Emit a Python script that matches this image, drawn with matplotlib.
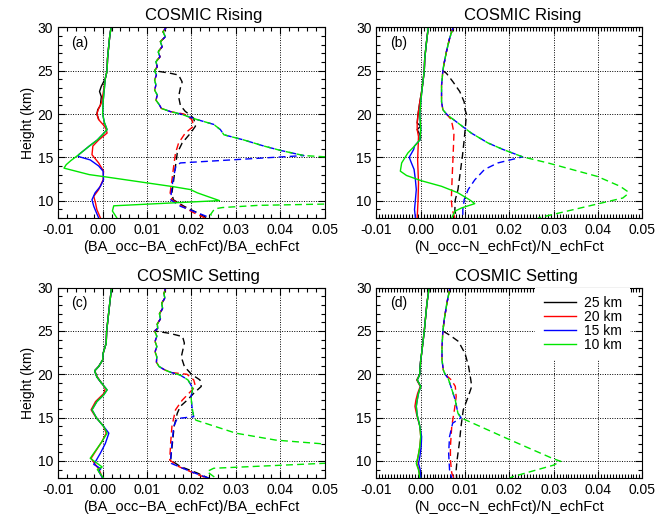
import matplotlib
matplotlib.use('Agg')
from matplotlib import pyplot as plt
from matplotlib.ticker import MultipleLocator, FormatStrFormatter
from matplotlib.lines import Line2D

plt.rcParams['font.family'] = ['Liberation Sans', 'DejaVu Sans']
matplotlib.rc('xtick', labelsize=10)
matplotlib.rc('ytick', labelsize=10)

# profiles as (height km, relative difference); curves share their upper part
# panel (a) BA rising, solid
a_sol_top = [(30.0, 0.0019), (29.0, 0.0016), (28.0, 0.0014), (26.4, 0.0011), (25.0, 0.0010), (24.1, 0.0006)]
a_sol_25 = [(23.7, 0.0002), (23.2, -0.0003), (22.6, -0.0007), (22.0, -0.0003), (21.0, -0.0005), (20.5, -0.0011),
            (20.0, -0.0013), (19.4, -0.0009)]
a_sol_20 = [(23.0, 0.0003), (21.4, -0.0002), (20.5, -0.0010), (20.0, -0.0013), (19.35, -0.0009), (18.6, 0.0004),
            (18.2, 0.0008), (17.8, 0.0010), (17.0, -0.0009), (16.3, -0.0022), (15.3, -0.0024), (14.35, -0.0009),
            (13.4, 0.0002), (12.4, 0.0001), (11.27, -0.0009), (10.5, -0.0020), (9.7, -0.0016), (8.96, -0.0013),
            (8.0, -0.0005)]
a_sol_mid = [(23.0, 0.0004), (21.4, 0.0001), (20.0, 0.0000), (19.0, 0.0004), (18.2, 0.0010), (17.8, 0.0003),
             (17.0, -0.0012), (16.3, -0.0030), (15.3, -0.0054)]
a_sol_15 = [(15.1, -0.0055), (14.7, -0.0028), (14.0, -0.0009), (13.4, 0.0001), (12.4, 0.0002), (11.65, -0.0005),
            (10.9, -0.0017), (10.1, -0.0024), (9.35, -0.0020), (8.6, -0.0014), (8.0, -0.0009)]
a_sol_10 = [(14.6, -0.0072), (14.15, -0.0082), (13.75, -0.0087), (13.0, -0.0030), (12.78, 0.0001), (11.6, 0.0160),
            (11.27, 0.0198), (10.9, 0.0213), (10.5, 0.0235), (10.0, 0.0263), (9.4, 0.0025), (8.8, 0.0022),
            (8.0, 0.0032)]
# panel (a) dashed
a_dsh_top = [(30.0, 0.0143), (29.5, 0.0136), (28.92, 0.0141), (28.35, 0.0130), (27.77, 0.0134), (27.19, 0.0125),
             (26.6, 0.0129), (26.04, 0.0120), (25.46, 0.0123), (25.0, 0.0117)]
a_dsh_25 = [(24.7, 0.0153), (24.5, 0.0171), (23.7, 0.0179), (23.0, 0.0175), (22.0, 0.0171), (21.0, 0.0175),
            (20.3, 0.0186), (20.0, 0.0194), (19.5, 0.0205), (18.6, 0.0209), (17.8, 0.0198), (16.65, 0.0179),
            (15.5, 0.0168), (14.0, 0.0164), (12.4, 0.0160), (10.9, 0.0156), (10.1, 0.0159), (9.35, 0.0183),
            (8.6, 0.0213), (8.0, 0.0235)]
a_dsh_low = [(24.5, 0.0121), (23.92, 0.0117), (23.35, 0.0120), (22.77, 0.0117), (22.19, 0.0123), (21.6, 0.0120),
             (21.04, 0.0128), (20.65, 0.0132), (20.27, 0.0153)]
a_dsh_20 = [(20.0, 0.0183), (19.35, 0.0201), (18.6, 0.0205), (17.8, 0.0186), (16.65, 0.0171), (15.5, 0.0164),
            (14.0, 0.0160), (12.4, 0.0156), (10.9, 0.0152), (10.1, 0.0156), (9.35, 0.0179), (8.6, 0.0205),
            (8.0, 0.0230)]
a_dsh_mid = [(20.0, 0.0175), (19.35, 0.0213), (18.8, 0.0250), (18.2, 0.0265), (17.6, 0.0273), (17.0, 0.0318),
             (16.3, 0.0363), (15.8, 0.0400), (15.2, 0.0453)]
a_dsh_15 = [(14.35, 0.0175), (14.0, 0.0165), (12.8, 0.0160), (11.65, 0.0156), (10.1, 0.0153), (9.35, 0.0175),
            (8.6, 0.0213), (8.0, 0.0243)]
a_dsh_10 = [(15.0, 0.0520), (14.5, 0.0700), (12.0, 0.0900), (10.0, 0.0700), (9.6, 0.0502), (9.45, 0.0350),
            (9.2, 0.0270), (9.05, 0.0252), (8.4, 0.0243), (8.0, 0.0250)]

# panel (b) N rising, solid
b_sol_top = [(30.0, 0.0017), (28.3, 0.0013), (26.4, 0.0009), (25.0, 0.0008), (23.3, 0.0004)]
b_sol_25 = [(22.6, 0.0002), (21.4, -0.0002), (20.0, -0.0006), (18.96, -0.0008), (18.6, 0.0000), (18.2, -0.0008),
            (17.4, 0.0000), (17.0, -0.0002)]
b_sol_20 = [(22.6, 0.0002), (21.4, -0.0002), (20.0, -0.0006), (18.96, -0.0008), (18.2, -0.0008), (17.4, -0.0005),
            (16.0, -0.0006), (14.7, -0.0007), (12.0, -0.0005), (10.1, -0.0006), (8.0, -0.0008)]
b_sol_mid = [(21.4, 0.0000), (20.0, -0.0002), (19.0, -0.0001), (18.2, 0.0000), (17.0, -0.0002), (16.3, -0.0014)]
b_sol_15 = [(15.9, -0.0016), (15.0, -0.0026), (14.35, -0.0021), (13.6, -0.0015), (12.4, -0.0012), (11.27, -0.0010),
            (10.1, -0.0012), (8.96, -0.0014), (8.0, -0.0012)]
b_sol_10 = [(15.5, -0.0029), (14.35, -0.0043), (13.4, -0.0046), (12.9, -0.0032), (12.3, 0.0001), (11.65, 0.0047),
            (10.9, 0.0084), (10.1, 0.0110), (9.65, 0.0122), (9.15, 0.0092), (8.77, 0.0077), (8.0, 0.0070)]
# panel (b) dashed
b_dsh_top = [(30.0, 0.0073), (28.7, 0.0065), (27.2, 0.0058), (25.65, 0.0052), (25.0, 0.0050)]
b_dsh_25 = [(24.7, 0.0058), (23.7, 0.0073), (22.6, 0.0088), (21.4, 0.0098), (20.5, 0.0100), (20.0, 0.0103),
            (18.6, 0.0101), (17.0, 0.0098), (15.1, 0.0094), (12.8, 0.0088), (11.27, 0.0084), (10.1, 0.0078),
            (8.96, 0.0077), (8.0, 0.0080)]
b_dsh_low = [(23.3, 0.0047), (21.4, 0.0047), (20.5, 0.0050), (20.0, 0.0058)]
b_dsh_20 = [(19.35, 0.0069), (17.8, 0.0075), (15.1, 0.0073), (12.8, 0.0071), (10.1, 0.0069), (8.96, 0.0071),
            (8.0, 0.0077)]
b_dsh_mid = [(19.7, 0.0065), (18.96, 0.0084), (17.8, 0.0114), (16.65, 0.0152), (15.9, 0.0186), (15.05, 0.0230)]
b_dsh_15 = [(14.35, 0.0174), (13.6, 0.0144), (12.4, 0.0122), (11.27, 0.0107), (10.1, 0.0098), (8.96, 0.0095),
            (8.0, 0.0095)]
b_dsh_10 = [(14.35, 0.0287), (12.8, 0.0398), (11.65, 0.0450), (11.08, 0.0466), (10.8, 0.0468), (10.3, 0.0456),
            (8.0, 0.0265)]

# panel (c) BA setting, solid
c_sol_top = [(30.0, 0.0020), (28.2, 0.0016), (25.0, 0.0009), (23.6, 0.0008), (22.4, 0.0001), (21.65, 0.0000),
             (20.9, -0.0009), (20.4, -0.0018)]
c_sol_25 = [(19.7, -0.0013), (19.0, -0.0003)]
c_sol_20 = [(19.7, -0.0012), (18.96, -0.0002), (18.4, 0.0006), (17.8, 0.0003), (16.85, -0.0016), (15.9, -0.0026),
            (15.1, -0.0016), (14.0, 0.0002), (13.2, 0.0008), (12.2, -0.0002), (11.1, -0.0016), (10.3, -0.0026),
            (9.7, -0.0018), (9.0, -0.0008), (8.0, 0.0000)]
c_sol_mid = [(19.7, -0.0013), (18.96, -0.0002), (18.2, 0.0010), (17.6, 0.0002), (16.85, -0.0013), (15.9, -0.0024),
             (14.9, -0.0013), (14.0, 0.0002)]
c_sol_15 = [(13.2, 0.0014), (12.0, 0.0006), (10.9, -0.0005), (10.1, -0.0014), (9.6, -0.0020), (9.1, -0.0004),
            (8.8, -0.0009), (8.0, 0.0000)]
c_sol_10 = [(13.2, 0.0010), (12.2, -0.0002), (11.1, -0.0017), (10.3, -0.0028), (9.3, -0.0001), (9.0, -0.0012),
            (8.0, 0.0002)]
# panel (c) dashed
c_dsh_top = [(30.0, 0.0142), (29.3, 0.0138), (28.8, 0.0140), (28.2, 0.0133), (27.6, 0.0135), (27.0, 0.0128),
             (26.4, 0.0130), (25.8, 0.0123), (25.3, 0.0124), (25.0, 0.0117)]
c_dsh_25 = [(24.73, 0.0151), (24.35, 0.0180), (23.6, 0.0184), (22.0, 0.0177), (20.9, 0.0184), (20.0, 0.0200),
            (19.35, 0.0219), (18.6, 0.0222), (17.8, 0.0205), (17.0, 0.0190), (16.3, 0.0175), (15.5, 0.0168),
            (14.0, 0.0161), (12.0, 0.0157), (10.1, 0.0153), (9.35, 0.0175), (8.6, 0.0213), (8.0, 0.0239)]
c_dsh_low = [(24.4, 0.0122), (23.8, 0.0118), (23.2, 0.0122), (22.6, 0.0118), (22.0, 0.0122), (21.4, 0.0121),
             (20.9, 0.0127), (20.5, 0.0140), (20.2, 0.0155)]
c_dsh_20 = [(20.0, 0.0190), (19.35, 0.0205), (18.6, 0.0209), (17.8, 0.0194), (17.0, 0.0179), (15.9, 0.0164),
            (14.0, 0.0156), (12.0, 0.0153), (10.1, 0.0151), (9.35, 0.0171), (8.6, 0.0205), (8.0, 0.0235)]
c_dsh_mid = [(19.9, 0.0175), (19.35, 0.0192), (18.4, 0.0203), (17.4, 0.0199), (16.3, 0.0201), (15.1, 0.0205)]
c_dsh_15 = [(14.9, 0.0168), (14.0, 0.0160), (12.0, 0.0156), (10.1, 0.0153), (9.7, 0.0155), (8.77, 0.0198),
            (8.0, 0.0239)]
c_dsh_10 = [(14.7, 0.0210), (13.2, 0.0300), (12.4, 0.0390), (11.95, 0.0500), (11.0, 0.0700), (10.0, 0.0650),
            (9.73, 0.0502), (9.15, 0.0250), (8.77, 0.0235), (8.0, 0.0255)]

# panel (d) N setting, solid
d_sol_top = [(30.0, 0.0019), (28.2, 0.0014), (25.0, 0.0008), (22.4, 0.0002), (21.65, 0.0000), (20.5, -0.0002),
             (20.0, -0.0002)]
d_sol_25 = [(19.35, -0.0008), (18.6, 0.0000)]
d_sol_20 = [(19.35, -0.0009), (18.6, -0.0001), (17.8, -0.0007), (17.0, -0.0011), (16.3, -0.0013), (15.3, -0.0009),
            (14.0, -0.0002), (12.8, 0.0000), (11.65, -0.0002), (10.5, -0.0006), (9.7, -0.0009), (8.96, -0.0004),
            (8.0, -0.0002)]
d_sol_mid = [(19.35, -0.0008), (18.6, 0.0000), (17.8, -0.0005), (17.0, -0.0008), (16.3, -0.0010), (15.3, -0.0008),
             (14.0, -0.0002)]
d_sol_15 = [(12.8, 0.0002), (11.65, 0.0001), (10.5, -0.0002), (9.7, -0.0005), (8.96, -0.0001), (8.0, 0.0000)]
d_sol_10 = [(12.8, 0.0000), (11.65, -0.0002), (10.5, -0.0006), (9.7, -0.0010), (8.96, -0.0005), (8.0, -0.0002)]
# panel (d) dashed
d_dsh_top = [(30.0, 0.0066), (28.2, 0.0059), (26.3, 0.0053), (25.0, 0.0050)]
d_dsh_25 = [(24.5, 0.0066), (23.8, 0.0085), (22.4, 0.0100), (20.9, 0.0108), (19.35, 0.0113), (18.6, 0.0115),
            (17.4, 0.0107), (15.9, 0.0096), (14.0, 0.0091), (12.0, 0.0087), (10.1, 0.0082), (8.96, 0.0080),
            (8.0, 0.0081)]
d_dsh_low = [(23.2, 0.0048), (21.65, 0.0048), (20.5, 0.0051), (20.0, 0.0055)]
d_dsh_20 = [(19.35, 0.0069), (18.6, 0.0078), (17.4, 0.0080), (15.9, 0.0076), (14.0, 0.0070), (11.65, 0.0067),
            (10.1, 0.0067), (8.6, 0.0070), (8.0, 0.0075)]
d_dsh_mid = [(19.5, 0.0062), (18.6, 0.0068), (17.0, 0.0078), (15.5, 0.0084), (15.0, 0.0091)]
d_dsh_15 = [(14.35, 0.0072), (12.8, 0.0065), (10.9, 0.0063), (8.96, 0.0065), (8.0, 0.0070)]
d_dsh_10 = [(14.85, 0.0096), (12.35, 0.0205), (10.25, 0.0299), (9.95, 0.0316), (9.5, 0.0299), (8.2, 0.0209),
            (8.0, 0.0200)]

labels = ['25 km', '20 km', '15 km', '10 km']
colors = ['black', '#ff0000', '#0000ff', '#00e600']
titles = ['COSMIC Rising', 'COSMIC Rising', 'COSMIC Setting', 'COSMIC Setting']
tags = ['(a)', '(b)', '(c)', '(d)']
xlabels = ['(BA_occ\u2212BA_echFct)/BA_echFct', '(N_occ\u2212N_echFct)/N_echFct'] * 2


def curves(top, c25, c20, mid, c15, c10, low=None):
  low = low or []
  segs = [top + c25, top + low + c20, top + low + mid + c15, top + low + mid + c10]
  return [([p[1] for p in s], [p[0] for p in s]) for s in segs]


panels = [
  (curves(a_sol_top, a_sol_25, a_sol_20, a_sol_mid, a_sol_15, a_sol_10),
   curves(a_dsh_top, a_dsh_25, a_dsh_20, a_dsh_mid, a_dsh_15, a_dsh_10, a_dsh_low)),
  (curves(b_sol_top, b_sol_25, b_sol_20, b_sol_mid, b_sol_15, b_sol_10),
   curves(b_dsh_top, b_dsh_25, b_dsh_20, b_dsh_mid, b_dsh_15, b_dsh_10, b_dsh_low)),
  (curves(c_sol_top, c_sol_25, c_sol_20, c_sol_mid, c_sol_15, c_sol_10),
   curves(c_dsh_top, c_dsh_25, c_dsh_20, c_dsh_mid, c_dsh_15, c_dsh_10, c_dsh_low)),
  (curves(d_sol_top, d_sol_25, d_sol_20, d_sol_mid, d_sol_15, d_sol_10),
   curves(d_dsh_top, d_dsh_25, d_dsh_20, d_dsh_mid, d_dsh_15, d_dsh_10, d_dsh_low)),
]

pos = [[0.0869, 0.5793, 0.3978, 0.3678], [0.5618, 0.5793, 0.3969, 0.3678],
       [0.0869, 0.0768, 0.3978, 0.3678], [0.5618, 0.0768, 0.3969, 0.3678]]
title_x = [0.545, 0.55, 0.525, 0.525]
# dash phase per colour so overlapping dashed curves show all colours
dash_off = [0, 0, 2.67, 5.33]

fig = plt.figure(figsize=(6.7, 5.18), dpi=100)
for i, (sol, dsh) in enumerate(panels):
  ax = fig.add_axes(pos[i])
  for (x, h), c, o in zip(dsh, colors, dash_off):
    ax.plot(x, h, color=c, lw=1.0, ls=(o, (5, 3)))
  for (x, h), c in zip(sol, colors):
    ax.plot(x, h, color=c, lw=1.0)
  ax.set_xlim(-0.01, 0.05)
  ax.set_ylim(8, 30)
  ax.xaxis.set_major_locator(MultipleLocator(0.01))
  ax.xaxis.set_minor_locator(MultipleLocator(0.002 if i % 2 == 0 else 0.01 / 15))
  ax.xaxis.set_major_formatter(FormatStrFormatter('%.2f'))
  ax.yaxis.set_major_locator(MultipleLocator(5))
  ax.yaxis.set_minor_locator(MultipleLocator(1))
  ax.tick_params(which='both', direction='in', top=True, right=True, width=0.8)
  ax.tick_params(which='major', length=5)
  ax.tick_params(which='minor', length=3)
  ax.grid(True, which='major', color='k', lw=0.7, ls=(0, (1, 1.5)))
  ax.set_axisbelow(True)
  ax.set_title(titles[i], fontsize=12, pad=5, x=title_x[i])
  ax.set_xlabel(xlabels[i], fontsize=10.5, labelpad=2)
  if i % 2 == 0:
    ax.set_ylabel('Height (km)', fontsize=10, labelpad=2)
  ax.text(0.05, 0.92, tags[i], transform=ax.transAxes, fontsize=10, va='center', ha='left')
  if i == 3:
    hdl = [Line2D([0, 1], [0, 0], color=c, lw=1.0) for c in colors]
    ax.legend(handles=hdl, labels=labels, loc='upper right', bbox_to_anchor=(0.955, 1.0), borderaxespad=0,
              frameon=True, fancybox=False, edgecolor='none', facecolor='white', framealpha=1, fontsize=10,
              handlelength=2.3, handletextpad=0.6, labelspacing=0.0, borderpad=0.6)

plt.savefig('out.png', dpi=100)
